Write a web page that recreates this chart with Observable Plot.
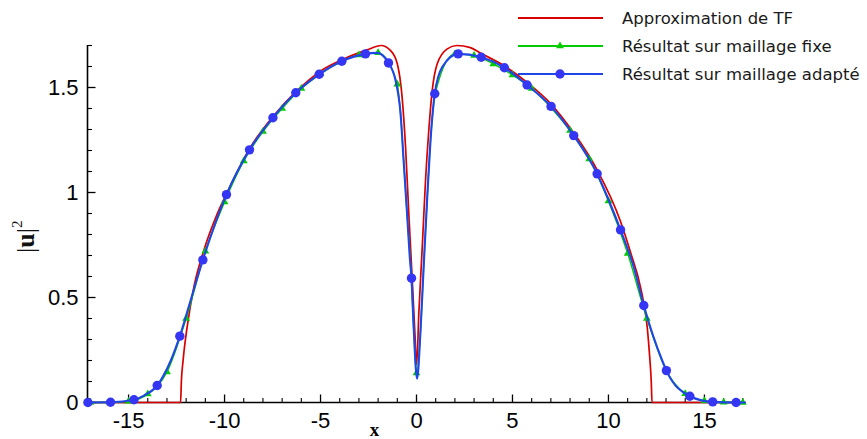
<!DOCTYPE html>
<html><head><meta charset="utf-8">
<script src="https://cdn.jsdelivr.net/npm/d3@7"></script>
<script src="https://cdn.jsdelivr.net/npm/@observablehq/plot@0.6"></script>
<style>
body{margin:0;background:#fff;}
#wrap{position:relative;width:867px;height:439px;overflow:hidden;}
</style></head><body><div id="wrap"></div>
<script>
// ---- data ----
const seriesNames = ["Approximation de TF", "Résultat sur maillage fixe", "Résultat sur maillage adapté"];

// Thomas-Fermi approximation (red line)
const redX = [-17.12, -12.29, -12.25, -12.16, -11.95, -11.6, -11.08, -10.38, -9.86, -8.65, -7.43, -6.21, -5.0, -3.79, -2.57, -1.85, -1.35, -1.0, -0.75, -0.57, -0.4, -0.22, -0.09, 0.01, 0.12, 0.3, 0.47, 0.64, 0.82, 1.08, 1.6, 2.1, 2.81, 3.33, 4.55, 5.76, 6.98, 8.19, 9.41, 10.63, 11.15, 11.67, 12.02, 12.15, 12.23, 12.27, 17.12];
const redY = [0, 0, 0.1, 0.2, 0.359, 0.549, 0.724, 0.898, 1.001, 1.216, 1.367, 1.486, 1.578, 1.636, 1.679, 1.70, 1.676, 1.613, 1.454, 1.216, 0.898, 0.581, 0.343, 0.18, 0.422, 0.74, 1.057, 1.295, 1.486, 1.613, 1.684, 1.70, 1.69, 1.664, 1.604, 1.524, 1.424, 1.284, 1.108, 0.862, 0.715, 0.549, 0.359, 0.216, 0.1, 0, 0];

// fixed mesh (green line + triangles)
const greenX = [-17, -16, -15, -14, -13, -12, -11, -10, -9, -8, -7, -6, -5, -4, -3, -2, -1, -0.83, -0.66, -0.49, -0.3, -0.14, 0, 0.21, 0.38, 0.56, 0.73, 1, 2, 3, 4, 5, 6, 7, 8, 9, 10, 11, 12, 13, 14, 15, 16, 17];
const greenY = [0, 0.001, 0.006, 0.04, 0.145, 0.40, 0.72, 0.955, 1.15, 1.29, 1.40, 1.495, 1.565, 1.62, 1.655, 1.665, 1.515, 1.375, 1.137, 0.898, 0.64, 0.343, 0.13, 0.343, 0.66, 0.978, 1.248, 1.48, 1.66, 1.652, 1.612, 1.56, 1.495, 1.405, 1.295, 1.16, 0.96, 0.71, 0.40, 0.155, 0.042, 0.008, 0.001, 0];
const greenMarkX = [-17, -16, -15, -14, -13, -12, -11, -10, -9, -8, -7, -6, -5, -4, -3, -2, -1, 0, 1, 2, 3, 4, 5, 6, 7, 8, 9, 10, 11, 12, 13, 14, 15, 16, 17];
const greenMarkY = [0, 0.001, 0.006, 0.04, 0.145, 0.40, 0.72, 0.955, 1.15, 1.29, 1.40, 1.495, 1.565, 1.62, 1.655, 1.665, 1.515, 0.14, 1.48, 1.66, 1.652, 1.612, 1.56, 1.495, 1.405, 1.295, 1.16, 0.96, 0.71, 0.40, 0.155, 0.042, 0.008, 0.001, 0];

// adaptive mesh (blue line + circles)
const blueX = [-17.12, -15.94, -14.72, -14.2, -13.51, -12.8, -12.33, -11.77, -11.13, -9.90, -8.70, -7.48, -6.29, -5.07, -3.89, -2.66, -2.05, -1.46, -1.09, -0.83, -0.66, -0.49, -0.35, -0.26, -0.14, 0.03, 0.21, 0.38, 0.56, 0.73, 0.95, 1.34, 2.17, 3.37, 4.58, 5.76, 7.01, 8.19, 9.41, 10.02, 10.63, 11.32, 11.84, 12.8, 13.02, 14.24, 15.43, 16.65, 17.12];
const blueY = [0, 0.001, 0.013, 0.033, 0.081, 0.2, 0.316, 0.486, 0.679, 0.99, 1.203, 1.356, 1.475, 1.563, 1.625, 1.66, 1.665, 1.617, 1.533, 1.375, 1.137, 0.898, 0.692, 0.592, 0.343, 0.113, 0.343, 0.66, 0.978, 1.248, 1.47, 1.597, 1.66, 1.644, 1.594, 1.512, 1.41, 1.271, 1.089, 0.962, 0.822, 0.644, 0.462, 0.2, 0.152, 0.03, 0.003, 0, 0];
const blueMarkX = [-17.12, -15.94, -14.72, -13.51, -12.33, -11.13, -9.90, -8.70, -7.48, -6.29, -5.07, -3.89, -2.66, -1.46, -0.26, 0.95, 2.17, 3.37, 4.58, 5.76, 7.01, 8.19, 9.41, 10.63, 11.84, 13.02, 14.24, 15.43, 16.65];
const blueMarkY = [0, 0.001, 0.013, 0.081, 0.316, 0.679, 0.99, 1.203, 1.356, 1.475, 1.563, 1.625, 1.66, 1.617, 0.592, 1.47, 1.66, 1.644, 1.594, 1.512, 1.41, 1.271, 1.089, 0.822, 0.462, 0.152, 0.03, 0.003, 0];

// axes
const xDomain = [-17.14, 17.14];
const yDomain = [0, 1.7];
const xTickValues = [-15, -10, -5, 0, 5, 10, 15];
const xTickLabels = ["-15", "-10", "-5", "0", "5", "10", "15"];
const yTickValues = [0, 0.5, 1, 1.5];
const yTickLabels = ["0", "0.5", "1", "1.5"];
const xMinorTicks = d3.range(-17, 18, 1).filter(v => v % 5 !== 0);
const yMinorTicks = d3.range(1, 18).map(v => v / 10).filter(v => Math.abs(v * 2 - Math.round(v * 2)) > 1e-9);

// ---- styles ----
const RED = "#d80000", GREEN = "#00cc00", BLUE = "#2046e8", BLUE_MARK = "#3535f4";
const tickFont = "Liberation Sans, Arial, sans-serif";

const toRows = (xs, ys) => xs.map((x, i) => ({x, y: ys[i]}));
const tickSym = (dx, dy) => ({draw(ctx) { ctx.moveTo(0, 0); ctx.lineTo(dx, dy); }});

const chart = Plot.plot({
  width: 867, height: 439,
  marginLeft: 87, marginRight: 122, marginTop: 45, marginBottom: 37,
  x: {domain: xDomain, axis: null},
  y: {domain: yDomain, axis: null},
  style: {background: "white", overflow: "visible"},
  marks: [
    Plot.ruleY([0], {stroke: "black", strokeWidth: 1.6}),
    Plot.ruleX([xDomain[0]], {stroke: "black", strokeWidth: 1.6}),
    Plot.dot(xTickValues, {x: d => d, y: () => 0, symbol: tickSym(0, -8), stroke: "black", fill: "none", strokeWidth: 1.3}),
    Plot.dot(xMinorTicks, {x: d => d, y: () => 0, symbol: tickSym(0, -4.5), stroke: "black", fill: "none", strokeWidth: 1.1}),
    Plot.dot(yTickValues, {x: () => xDomain[0], y: d => d, symbol: tickSym(8, 0), stroke: "black", fill: "none", strokeWidth: 1.3}),
    Plot.dot(yMinorTicks, {x: () => xDomain[0], y: d => d, symbol: tickSym(4.5, 0), stroke: "black", fill: "none", strokeWidth: 1.1}),
    Plot.text(xTickValues, {x: d => d, y: () => 0, text: (d, i) => xTickLabels[i], dy: 18, fontSize: 22, fontFamily: tickFont, fill: "black"}),
    Plot.text(yTickValues, {x: () => xDomain[0], y: d => d, text: (d, i) => yTickLabels[i], textAnchor: "end", dx: -9, fontSize: 22, fontFamily: tickFont, fill: "black"}),
    Plot.line(toRows(redX, redY), {x: "x", y: "y", stroke: RED, strokeWidth: 1.7, curve: "monotone-x"}),
    Plot.line(toRows(greenX, greenY), {x: "x", y: "y", stroke: GREEN, strokeWidth: 1.4, curve: "monotone-x"}),
    Plot.dot(toRows(greenMarkX, greenMarkY), {x: "x", y: "y", symbol: "triangle", r: 2.9, fill: GREEN, stroke: "none"}),
    Plot.line(toRows(blueX, blueY), {x: "x", y: "y", stroke: BLUE, strokeWidth: 2.1, curve: "monotone-x"}),
    Plot.dot(toRows(blueMarkX, blueMarkY), {x: "x", y: "y", symbol: "circle", r: 4.7, fill: BLUE_MARK, stroke: "none"}),
    Plot.text(["x"], {frameAnchor: "bottom", text: d => d, dx: -42, dy: 33, fontSize: 19, fontWeight: "bold", fontFamily: "Liberation Serif, Times New Roman, serif", fill: "black"})
  ]
});

document.getElementById("wrap").appendChild(chart);
const svg = d3.select(chart);

// y-axis title |u|^2
const yl = svg.append("text")
  .attr("transform", "translate(33.5,253) rotate(-90)")
  .attr("text-anchor", "start")
  .attr("font-family", "Liberation Serif, Times New Roman, serif")
  .attr("font-size", 26).attr("fill", "#111");
yl.append("tspan").text("|");
yl.append("tspan").attr("font-weight", "bold").text("u");
yl.append("tspan").text("|");
yl.append("tspan").attr("font-size", 15).attr("dy", -12).text("2");

// legend
const legendRows = [
  {name: seriesNames[0], color: RED, sym: null},
  {name: seriesNames[1], color: GREEN, sym: "triangle"},
  {name: seriesNames[2], color: BLUE, sym: "circle"}
];
const lg = svg.append("g").attr("text-anchor", "start");
legendRows.forEach((r, i) => {
  const y = 18 + i * 28;
  lg.append("line").attr("x1", 518).attr("x2", 603).attr("y1", y).attr("y2", y)
    .attr("stroke", r.color).attr("stroke-width", 1.8);
  if (r.sym === "triangle") {
    lg.append("path").attr("transform", `translate(560,${y})`)
      .attr("d", d3.symbol(d3.symbolTriangle, Math.PI * 2.9 * 2.9)()).attr("fill", GREEN);
  } else if (r.sym === "circle") {
    lg.append("circle").attr("cx", 560).attr("cy", y).attr("r", 4.7).attr("fill", BLUE_MARK);
  }
  lg.append("text").attr("x", 622).attr("y", y).attr("dy", "0.36em")
    .attr("text-anchor", "start")
    .attr("font-family", "DejaVu Sans, sans-serif").attr("font-size", 16.5).attr("fill", "#1a1a1a")
    .text(r.name);
});
</script>
</body></html>
